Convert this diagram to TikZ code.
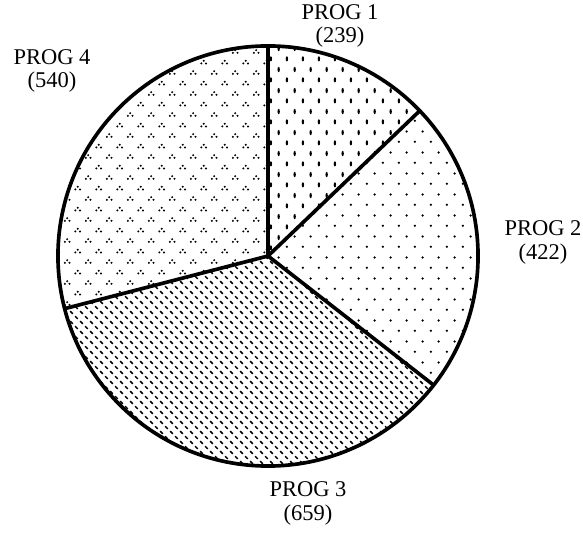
\documentclass[tikz,border=0pt]{standalone}
\usepackage{fontspec}
\setmainfont{Liberation Serif}
\usetikzlibrary{patterns.meta}

\tikzdeclarepattern{
  name=progdash, type=uncolored,
  bounding box={(0pt,0pt) and (11.2pt,14.8pt)},
  tile size={(11.2pt,14.8pt)},
  code={
    \fill (2.8pt,3.7pt) ellipse [x radius=0.85pt, y radius=1.9pt];
    \fill (8.4pt,11.1pt) ellipse [x radius=0.85pt, y radius=1.9pt];
  }
}
\tikzdeclarepattern{
  name=progdot, type=uncolored,
  bounding box={(0pt,0pt) and (11.2pt,14.8pt)},
  tile size={(11.2pt,14.8pt)},
  code={
    \fill (2.8pt,3.7pt) circle [radius=0.9pt];
    \fill (8.4pt,11.1pt) circle [radius=0.9pt];
  }
}
\tikzdeclarepattern{
  name=progslash, type=uncolored,
  bounding box={(0pt,0pt) and (7.1pt,7.1pt)},
  tile size={(7.1pt,7.1pt)},
  code={
    \draw[line width=1.1pt] (0.9pt,2.7pt) -- (2.7pt,0.9pt);
    \draw[line width=1.1pt] (4.4pt,6.2pt) -- (6.2pt,4.4pt);
  }
}
\tikzdeclarepattern{
  name=progtri, type=uncolored,
  bounding box={(0pt,0pt) and (14.9pt,15.2pt)},
  tile size={(14.9pt,15.2pt)},
  code={
    \foreach \cx/\cy in {3.7/3.8, 11.15/11.4} {
      \fill (\cx pt,\cy pt+1.2pt) circle [radius=0.8pt];
      \fill (\cx pt-1.65pt,\cy pt-0.75pt) circle [radius=0.8pt];
      \fill (\cx pt+1.65pt,\cy pt-0.75pt) circle [radius=0.8pt];
    }
  }
}

\tikzset{proglabel/.style={align=center, inner sep=0pt,
    font=\fontsize{16}{17}\selectfont}}

\begin{document}
\begin{tikzpicture}[x=0.025cm, y=0.025cm]
  \useasboundingbox (0,0) rectangle (583,544);
  \coordinate (c) at (268,288);
  % wedges, clockwise from the top
  \foreach \a/\b/\pat in {90/43.74/progdash, 43.74/-37.94/progdot,
      -37.94/-165.48/progslash, -165.48/-270/progtri}
    \fill[pattern=\pat] (c) -- ++(\a:210) arc[start angle=\a, end angle=\b, radius=5.25cm] -- cycle;
  \foreach \a in {90, 43.74, -37.94, -165.48}
    \draw[line width=2.6pt] (c) -- ++(\a:210);
  \draw[line width=2.6pt] (c) circle[radius=5.25cm];
  % labels
  \node[proglabel] (prog1) at (340,518) {PROG 1\\(239)};
  \node[proglabel] (prog2) at (543,302) {PROG 2\\(422)};
  \node[proglabel] (prog3) at (308,41) {PROG 3\\(659)};
  \node[proglabel] (prog4) at (52,473) {PROG 4\\(540)};
\end{tikzpicture}
\end{document}
